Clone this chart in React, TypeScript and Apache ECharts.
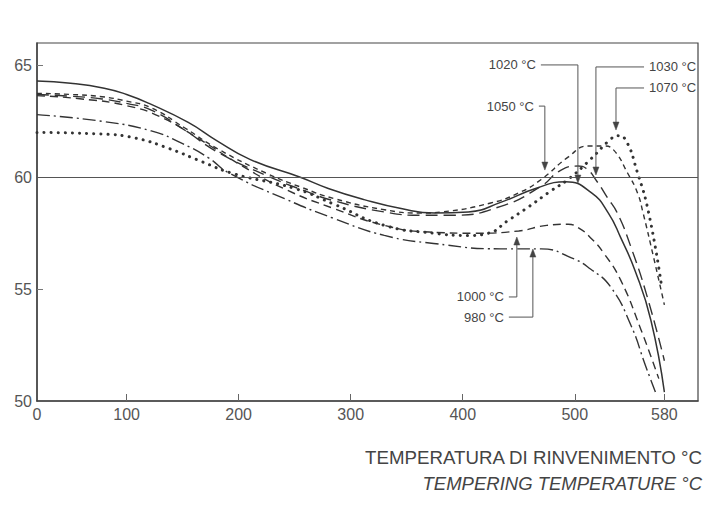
import React, { useEffect, useRef } from "react";
import * as echarts from "echarts";

// Axis ticks / labels
const xTickValues = [20, 100, 200, 300, 400, 500, 580];
const xTickLabels = ["0", "100", "200", "300", "400", "500", "580"];
const yTickValues = [50, 55, 60, 65];
const yTickMarks = [55, 65];
const refHardness = 60;

// Hardness (HRC) vs tempering temperature (°C), one array per austenitizing temperature
const curve980: number[][] = [
  [20, 62.8], [78, 62.5], [122, 62.07], [150, 61.5], [173, 60.87], [191, 60.2], [241, 59.04],
  [285, 58.16], [330, 57.4], [374, 57.04], [434, 56.8], [470, 56.8], [497, 56.4],
  [514, 55.9], [532, 55.1], [550, 53.4], [563, 51.6], [572, 50.4],
];
const curve1000: number[][] = [
  [20, 63.65], [60, 63.5], [100, 63.2], [130, 62.7], [165, 61.7], [200, 60.6],
  [240, 59.5], [285, 58.6], [330, 57.85], [370, 57.55], [410, 57.5], [450, 57.6],
  [475, 57.85], [494, 57.9], [503, 57.75], [514, 57.3], [526, 56.6], [541, 55.4],
  [559, 53.2], [575, 51.0],
];
const curve1020: number[][] = [
  [20, 64.3], [50, 64.2], [80, 63.98], [100, 63.7], [120, 63.3], [155, 62.45], [180, 61.65],
  [210, 60.8], [255, 60.0], [280, 59.5], [312, 59.0], [345, 58.6], [375, 58.4],
  [405, 58.45], [435, 58.9], [465, 59.5], [492, 59.8], [515, 59.3], [530, 58.4],
  [541, 57.3], [554, 55.8], [568, 53.6], [580, 50.4],
];
const curve1030: number[][] = [
  [20, 63.7], [50, 63.62], [78, 63.5], [100, 63.3], [122, 63.0], [152, 62.1], [182, 61.1],
  [226, 60.05], [256, 59.45], [285, 58.95], [330, 58.45], [363, 58.3], [390, 58.3],
  [434, 58.7], [470, 59.6], [487, 60.3], [503, 60.5], [510, 60.4], [520, 59.8],
  [529, 59.1], [538, 58.4], [550, 56.9], [565, 54.6], [580, 51.8],
];
const curve1050: number[][] = [
  [20, 63.75], [50, 63.7], [78, 63.6], [100, 63.4], [122, 63.1], [152, 62.2], [182, 61.25],
  [226, 60.15], [256, 59.55], [285, 59.05], [330, 58.55], [363, 58.4], [381, 58.45],
  [425, 58.85], [450, 59.3], [470, 59.9], [494, 60.9], [512, 61.4], [526, 61.4],
  [535, 61.2], [547, 60.2], [556, 59.3], [561, 58.4], [570, 56.5], [580, 54.3],
];
const curve1070: number[][] = [
  [20, 62.0], [78, 61.93], [107, 61.76], [137, 61.3], [167, 60.7], [196, 60.15],
  [250, 59.5], [285, 58.8], [330, 57.85], [374, 57.5], [405, 57.4], [423, 57.5],
  [440, 58.05], [458, 58.65], [479, 59.4], [494, 59.9], [514, 60.8], [532, 61.7],
  [538, 61.85], [545, 61.7], [556, 60.2], [566, 58.4], [577, 55.3],
];

// Callout labels: text anchor (data coords), elbow temperature, arrow tip hardness
const annotations = [
  { label: "1020 °C", textT: 465.3, textH: 65.02, align: "right", elbowT: 502.8, tipH: 59.74 },
  { label: "1030 °C", textT: 566.3, textH: 64.93, align: "left", elbowT: 518.9, tipH: 60.1 },
  { label: "1070 °C", textT: 566.3, textH: 63.99, align: "left", elbowT: 536.8, tipH: 62.11 },
  { label: "1050 °C", textT: 463.5, textH: 63.18, align: "right", elbowT: 473.3, tipH: 60.32 },
  { label: "1000 °C", textT: 436.7, textH: 54.65, align: "right", elbowT: 448.3, tipH: 57.33 },
  { label: "980 °C", textT: 436.7, textH: 53.75, align: "right", elbowT: 462.6, tipH: 56.79 },
];

const LINE = "#333";
const FONT = '"Liberation Sans", Arial, Helvetica, sans-serif';

const mkSeries = (name: string, data: number[][], lineStyle: any, extra: any = {}) => ({
  name,
  type: "line",
  data,
  smooth: 0.5,
  symbol: "none",
  lineStyle: { color: LINE, width: 1.4, ...lineStyle },
  z: 3,
  ...extra,
});

export default function App() {
  const ref = useRef<HTMLDivElement>(null);
  useEffect(() => {
    if (!ref.current) return;
    const chart = echarts.init(ref.current, null, { renderer: "svg" });
    chart.setOption({
      animation: false,
      backgroundColor: "#fff",
      grid: {
        left: 37, right: 12, top: 43, bottom: 114,
        show: true, borderColor: "#444", borderWidth: 1.2,
      },
      xAxis: {
        type: "value",
        min: 20,
        max: 610,
        axisLine: { show: true, lineStyle: { color: "#444", width: 1.5 } },
        axisTick: {
          show: true, inside: true, length: 7,
          customValues: xTickValues.slice(1),
          lineStyle: { color: "#666", width: 1 },
        },
        axisLabel: {
          customValues: xTickValues,
          formatter: (v: number) => {
            const i = xTickValues.indexOf(Math.round(v));
            return i >= 0 ? xTickLabels[i] : "";
          },
          color: "#555", fontSize: 16, fontFamily: FONT, margin: 5,
        },
        splitLine: { show: false },
      },
      yAxis: {
        type: "value",
        min: 50,
        max: 66,
        interval: 5,
        axisLine: { show: true, lineStyle: { color: "#444", width: 1.5 } },
        axisTick: {
          show: true, inside: true, length: 6,
          customValues: yTickMarks,
          lineStyle: { color: "#777", width: 1 },
        },
        axisLabel: {
          customValues: yTickValues,
          color: "#555", fontSize: 16, fontFamily: FONT, margin: 5,
        },
        splitLine: { show: false },
      },
      series: [
        mkSeries("1020 °C", curve1020, { type: "solid", width: 1.5 }, {
          markLine: {
            silent: true,
            symbol: "none",
            label: { show: false },
            lineStyle: { color: "#555", width: 1, type: "solid" },
            data: [{ yAxis: refHardness }],
          },
        }),
        mkSeries("1050 °C", curve1050, { type: [5, 4] }),
        mkSeries("1030 °C", curve1030, { type: [12, 6] }),
        mkSeries("1000 °C", curve1000, { type: [8, 5] }),
        mkSeries("980 °C", curve980, { type: [13, 4, 2, 4] }),
        mkSeries("1070 °C", curve1070, { type: [0.1, 7], width: 3, cap: "round" }),
      ],
    });

    const toPx = (t: number, h: number) =>
      chart.convertToPixel({ xAxisIndex: 0, yAxisIndex: 0 }, [t, h]) as number[];

    const graphics: any[] = [];
    annotations.forEach((a) => {
      const tp = toPx(a.textT, a.textH);
      const el = toPx(a.elbowT, a.textH);
      const tip = toPx(a.elbowT, a.tipH);
      const startX = a.align === "right" ? tp[0] + 5 : tp[0] - 5;
      const down = tip[1] > el[1];
      const headLen = 8;
      const baseY = down ? tip[1] - headLen : tip[1] + headLen;
      graphics.push({
        type: "text",
        z: 10,
        style: {
          text: a.label, x: tp[0], y: tp[1],
          align: a.align, verticalAlign: "middle",
          fontSize: 13, fontFamily: FONT, fill: "#444",
        },
      });
      graphics.push({
        type: "polyline",
        z: 10,
        shape: { points: [[startX, el[1]], [el[0], el[1]], [tip[0], baseY]] },
        style: { stroke: "#555", lineWidth: 1, fill: null },
      });
      graphics.push({
        type: "polygon",
        z: 10,
        shape: { points: [[tip[0], tip[1]], [tip[0] - 3, baseY], [tip[0] + 3, baseY]] },
        style: { fill: "#444", stroke: "#444", lineWidth: 0.5 },
      });
    });

    graphics.push({
      type: "text",
      z: 10,
      style: {
        text: "TEMPERATURA DI RINVENIMENTO °C", x: 702, y: 457,
        align: "right", verticalAlign: "middle",
        fontSize: 18.7, fontFamily: FONT, fill: "#444",
      },
    });
    graphics.push({
      type: "text",
      z: 10,
      style: {
        text: "TEMPERING TEMPERATURE °C", x: 702, y: 483,
        align: "right", verticalAlign: "middle",
        fontSize: 18.5, fontStyle: "italic", fontFamily: FONT, fill: "#444",
      },
    });

    chart.setOption({ graphic: graphics });

    return () => chart.dispose();
  }, []);

  return (
    <div
      ref={ref}
      style={{ position: "fixed", left: 0, top: 0, width: 710, height: 515, background: "#fff" }}
    />
  );
}
